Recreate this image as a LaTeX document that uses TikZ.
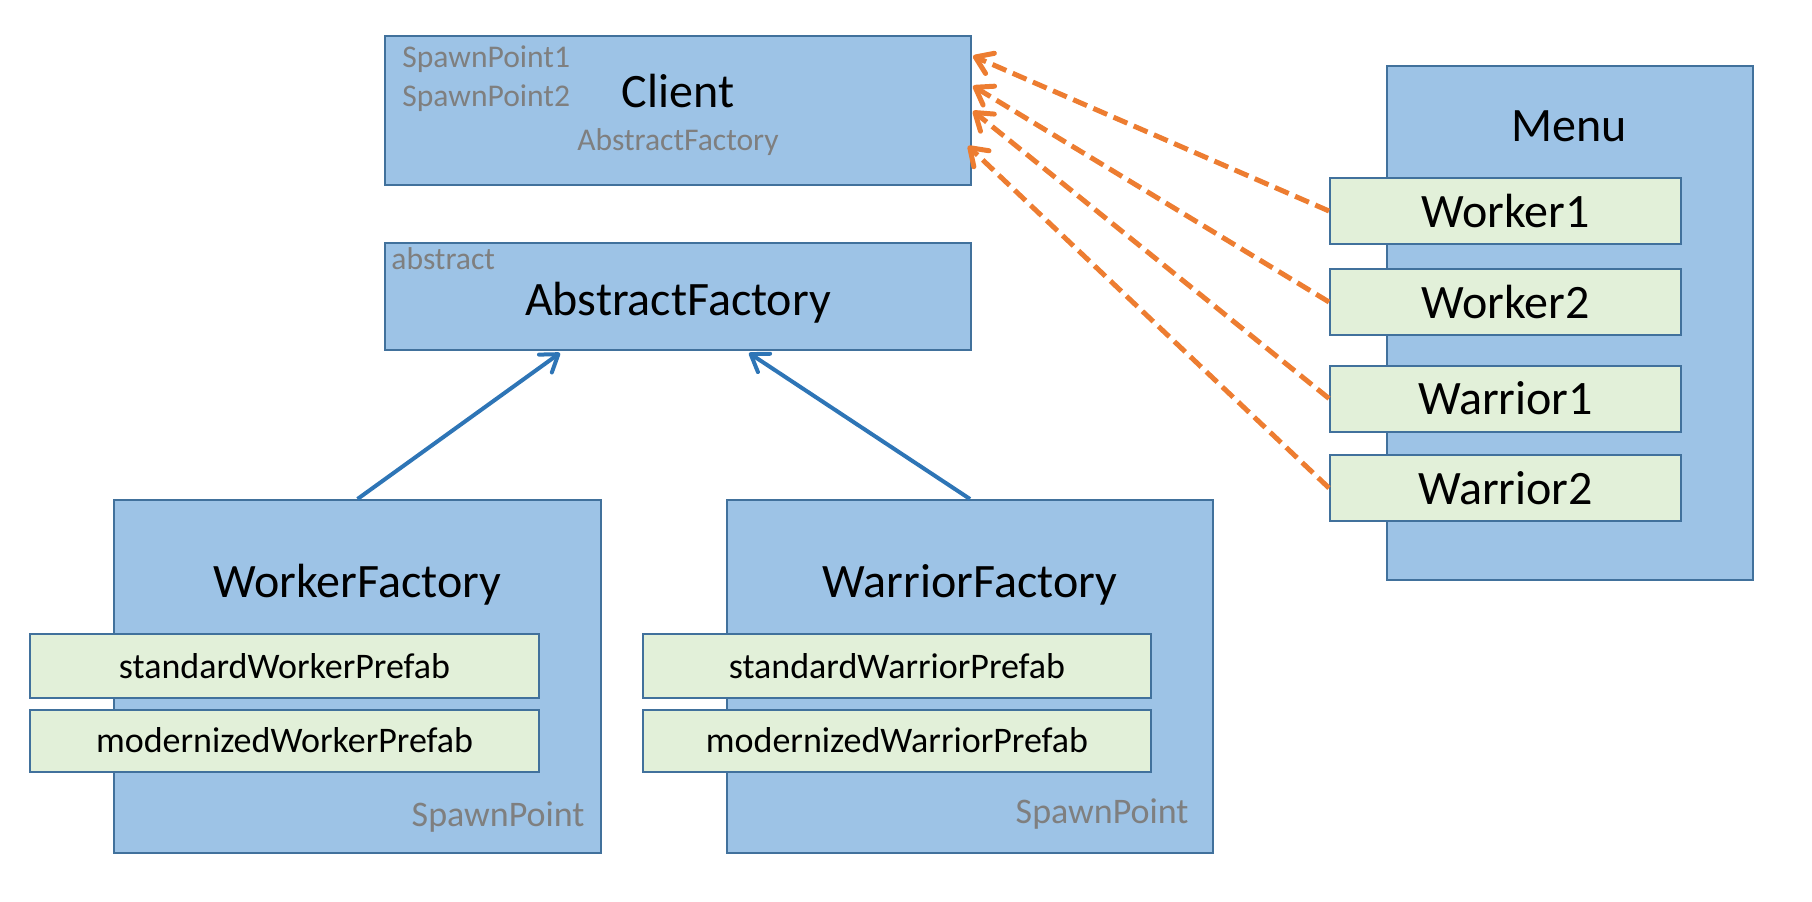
\documentclass[tikz,border=0pt]{standalone}
\usepackage{fontspec}
\setmainfont{Carlito}
\usetikzlibrary{calc}
\usetikzlibrary{arrows.meta}

\definecolor{boxfill}{HTML}{9DC3E6}
\definecolor{boxline}{HTML}{41719C}
\definecolor{itemfill}{HTML}{E2F0D9}
\definecolor{useline}{HTML}{ED7D31}
\definecolor{inhline}{HTML}{2E75B6}
\definecolor{hintgray}{HTML}{7F7F7F}

\begin{document}
\begin{tikzpicture}[
    x=0.5pt, y=-0.5pt,
    block/.style={draw=boxline, line width=1pt, fill=boxfill, inner sep=0pt},
    member/.style={draw=boxline, line width=1pt, fill=itemfill, inner sep=0pt, font=\fontsize{18}{21}\selectfont},
    menuitem/.style={member, minimum width=175.5pt, minimum height=33pt, font=\fontsize{24}{28}\selectfont},
    title/.style={inner sep=0pt, anchor=base, font=\fontsize{24}{28}\selectfont},
    hint/.style={inner sep=0pt, text=hintgray, font=\fontsize{15.8}{19}\selectfont},
    inherit/.style={-{Straight Barb[length=8pt, width=11pt, round]}, inhline, line width=2pt},
    uses/.style={-{Straight Barb[length=8pt, width=11pt, round]}, useline, line width=2.5pt, dash pattern=on 7.5pt off 3.5pt}
]
\useasboundingbox (0,0) rectangle (1812,901);

% --- Client ---
\node[block, minimum width=293pt, minimum height=74.5pt] (client) at (678,110.5) {};
\node[title] (clientname) at (678,107) {Client};
\node[hint, anchor=base west] (spawn1) at (402,67) {SpawnPoint1};
\node[hint, anchor=base west] (spawn2) at (402,106) {SpawnPoint2};
\node[hint, anchor=base] (clientfac) at (678,150) {AbstractFactory};

% --- Abstract factory ---
\node[block, minimum width=293pt, minimum height=53.5pt] (absfac) at (678,296.5) {};
\node[hint, anchor=base west] (abstag) at (391,269) {abstract};
\node[title] (absname) at (678,315) {AbstractFactory};

% --- Concrete factories ---
\node[block, minimum width=243.5pt, minimum height=176.5pt] (workerfac) at (357.5,676.5) {};
\node[title] (workername) at (357.5,597) {WorkerFactory};
\node[member, minimum width=254.5pt, minimum height=32pt] (stdworker) at (284.5,666) {standardWorkerPrefab};
\node[member, minimum width=254.5pt, minimum height=31pt] (modworker) at (284.5,740.5) {modernizedWorkerPrefab};
\node[hint, anchor=base east, font=\fontsize{18}{21}\selectfont] (workerspawn) at (585,826) {SpawnPoint};

\node[block, minimum width=243pt, minimum height=176.5pt] (warriorfac) at (970,676.5) {};
\node[title] (warriorname) at (970,597) {WarriorFactory};
\node[member, minimum width=254pt, minimum height=32pt] (stdwarrior) at (897,666) {standardWarriorPrefab};
\node[member, minimum width=254pt, minimum height=31pt] (modwarrior) at (897,740.5) {modernizedWarriorPrefab};
\node[hint, anchor=base east, font=\fontsize{18}{21}\selectfont] (warriorspawn) at (1189,823) {SpawnPoint};

% Inheritance
\coordinate (absin1) at ($(absfac.south)+(-118,2)$);
\coordinate (absin2) at ($(absfac.south)+(71,2)$);
\draw[inherit] (workerfac.north) -- (absin1);
\draw[inherit] (warriorfac.north) -- (absin2);

% --- Menu ---
\node[block, minimum width=183pt, minimum height=257pt] (menu) at (1570,323) {};
\node[title] (menuname) at (1569,141) {Menu};
\node[menuitem] (worker1) at (1505.5,211) {Worker1};
\node[menuitem] (worker2) at (1505.5,302) {Worker2};
\node[menuitem] (warrior1) at (1505.5,398.5) {Warrior1};
\node[menuitem] (warrior2) at (1505.5,488) {Warrior2};

% Buttons call into the client
\coordinate (clientin1) at ($(client.north east)+(1,21)$);
\coordinate (clientin2) at ($(client.north east)+(1,51)$);
\coordinate (clientin3) at ($(client.north east)+(1,76)$);
\coordinate (clientin4) at ($(client.north east)+(-4,111)$);
\draw[uses] (worker1.west) -- (clientin1);
\draw[uses] (worker2.west) -- (clientin2);
\draw[uses] (warrior1.west) -- (clientin3);
\draw[uses] (warrior2.west) -- (clientin4);

\end{tikzpicture}
\end{document}
